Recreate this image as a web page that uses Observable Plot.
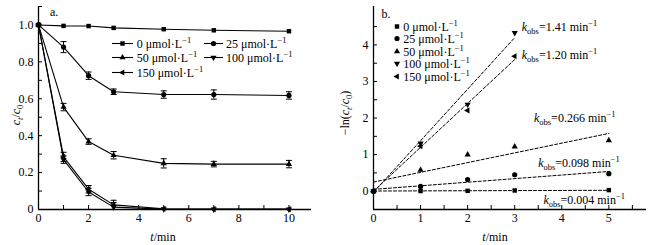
<!DOCTYPE html>
<html><head><meta charset="utf-8">
<script src="https://cdn.jsdelivr.net/npm/d3@7"></script>
<script src="https://cdn.jsdelivr.net/npm/@observablehq/plot@0.6"></script>
<style>
body{margin:0;background:#fff;}
#wrap{position:relative;width:649px;height:245px;font-family:'Liberation Serif','Tinos','DejaVu Serif','Times New Roman',serif;color:#000;overflow:hidden;background:#fff}
#wrap svg.plot{position:absolute;top:0}
#wrap svg text{font-family:'Liberation Serif','Tinos','DejaVu Serif','Times New Roman',serif}
.t{position:absolute;white-space:nowrap;font-size:12px;line-height:1;}
.sb{position:relative;top:3px;font-size:8.5px}
.sp{position:relative;top:-5px;font-size:8.5px}
</style></head><body><div id="wrap"></div>
<script>
// ---------- data ----------
const conc = ["0","25","50","100","150"];
const timesA = [0,1,2,3,5,7,10];
const ratio0   = [1.000,0.995,0.994,0.984,0.977,0.971,0.966];
const ratio25  = [1.000,0.880,0.725,0.638,0.623,0.623,0.618];
const ratio50  = [1.000,0.555,0.368,0.294,0.250,0.246,0.246];
const ratio100 = [1.000,0.270,0.095,0.013,0.002,0.001,0.001];
const ratio150 = [1.000,0.285,0.110,0.025,0.004,0.002,0.002];
const err0   = [0,0,0,0,0,0,0];
const err25  = [0,0.030,0.020,0.015,0.020,0.025,0.020];
const err50  = [0,0.020,0.015,0.020,0.025,0.015,0.020];
const err100 = [0,0.020,0.020,0.025,0,0,0];
const err150 = [0,0.025,0.020,0.025,0,0,0];

const timesB = [0,1,2,3,5];
const lnr0   = [0,0.005,0.01,0.02,0.03];
const lnr25  = [0,0.13,0.32,0.45,0.48];
const lnr50  = [0,0.58,1.00,1.22,1.39];
const lnr100 = [0,1.31,2.37,4.33];
const lnr150 = [0,1.23,2.21,3.69];
const kobs       = [0.004,0.098,0.266,1.41,1.20];
const kIntercept = [0.005,0.05,0.25,-0.03,0.0];
const fitEnd     = [5,5,5,3,3];
const kLabel     = ["0.004","0.098","0.266","1.41","1.20"];
const kLabelX    = [3.62,3.51,3.42,3.16,3.16];
const kLabelY    = [-0.25,0.75,2.0,4.47,3.72];

const xTicksA = [0,2,4,6,8,10];
const yTicksA = [0,0.2,0.4,0.6,0.8,1.0];
const xTicksB = [0,1,2,3,4,5];
const yTicksB = [0,1,2,3,4];

// ---------- symbols ----------
const s3 = Math.sqrt(3);
const triDown = {draw(ctx,size){const y=-Math.sqrt(size/(s3*3));ctx.moveTo(0,-2*y);ctx.lineTo(s3*y,y);ctx.lineTo(-s3*y,y);ctx.closePath();}};
const triLeft = {draw(ctx,size){const y=-Math.sqrt(size/(s3*3));ctx.moveTo(2*y,0);ctx.lineTo(-y,s3*y);ctx.lineTo(-y,-s3*y);ctx.closePath();}};
const capBar = {draw(ctx){ctx.moveTo(-3,0);ctx.lineTo(3,0);}};
const plotSymbols = ["square","circle","triangle",triDown,triLeft];
const d3Symbols = [d3.symbolSquare,d3.symbolCircle,d3.symbolTriangle,triDown,triLeft];
const symR = [2.5,2.6,2.3,2.3,2.3];

const ratiosA = [ratio0,ratio25,ratio50,ratio100,ratio150];
const errA = [err0,err25,err50,err100,err150];
const lnrB = [lnr0,lnr25,lnr50,lnr100,lnr150];

const font = "'Liberation Serif','Tinos','DejaVu Serif','Times New Roman',serif";
const wrap = document.getElementById("wrap");

function axes(xDom, yDom, xMinor, yMinor, xLab, yLab, xFmt, yFmt){
  return [
    Plot.axisX({ticks:xMinor, tickSize:-4, text:null, label:null, anchor:"bottom"}),
    Plot.axisY({ticks:yMinor, tickSize:-4, text:null, label:null, anchor:"left"}),
    Plot.axisX({ticks:xLab, tickSize:0, tickPadding:4, label:null, anchor:"bottom", fontSize:12, tickFormat:xFmt}),
    Plot.axisY({ticks:yLab, tickSize:0, tickPadding:5, label:null, anchor:"left", fontSize:12, tickFormat:yFmt}),
    Plot.ruleX([xDom[0]],{stroke:"black",strokeWidth:1.3}),
    Plot.ruleY([yDom[0]],{stroke:"black",strokeWidth:1.3})
  ];
}

// ---------- panel a ----------
const xDomA=[0,10.9], yDomA=[0,1.1];
const seriesA = conc.map((c,i)=>timesA.map((t,j)=>({t, v:ratiosA[i][j], e:errA[i][j]})));
const plotA = Plot.plot({
  width:330, height:245, marginLeft:38, marginRight:19, marginTop:6, marginBottom:36,
  x:{domain:xDomA}, y:{domain:yDomA},
  style:{fontFamily:font, fontSize:"12px", color:"black", background:"transparent"},
  marks:[
    ...axes(xDomA, yDomA, d3.range(0,11,1), d3.range(0,1.101,0.1), xTicksA, yTicksA, d=>String(d), d=>d===0?"0":d.toFixed(1)),
    ...seriesA.flatMap((rows,i)=>{
      const eb = rows.filter(d=>d.e>0);
      return [
        Plot.line(rows,{x:"t",y:"v",stroke:"black",strokeWidth:1.1}),
        Plot.ruleX(eb,{x:"t",y1:d=>Math.max(0,d.v-d.e),y2:d=>d.v+d.e,stroke:"black",strokeWidth:1}),
        Plot.dot(eb,{x:"t",y:d=>d.v+d.e,symbol:capBar,stroke:"black",fill:"none",strokeWidth:1}),
        Plot.dot(eb.filter(d=>d.v-d.e>0),{x:"t",y:d=>d.v-d.e,symbol:capBar,stroke:"black",fill:"none",strokeWidth:1}),
        Plot.dot(rows,{x:"t",y:"v",symbol:plotSymbols[i],r:symR[i],fill:"black",stroke:"none"})
      ];
    })
  ]
});
plotA.classList.add("plot");
plotA.style.left="0px";
wrap.appendChild(plotA);

// ---------- panel b ----------
const xDomB=[0,5.8], yDomB=[-0.5,5.05];
const seriesB = conc.map((c,i)=>lnrB[i].map((v,j)=>({t:timesB[j], v})));
const fits = kobs.map((k,i)=>[{t:0,v:kIntercept[i]},{t:fitEnd[i],v:kIntercept[i]+k*fitEnd[i]}]);
const plotB = Plot.plot({
  width:319, height:245, marginLeft:43, marginRight:3, marginTop:6, marginBottom:36,
  x:{domain:xDomB}, y:{domain:yDomB},
  style:{fontFamily:font, fontSize:"12px", color:"black", background:"transparent"},
  marks:[
    ...axes(xDomB, yDomB, d3.range(0,5.6,0.5), d3.range(0,4.6,0.5), xTicksB, yTicksB, d=>String(d), d=>String(d)),
    ...fits.map(f=>Plot.line(f,{x:"t",y:"v",stroke:"black",strokeWidth:1,strokeDasharray:"3,2"})),
    ...seriesB.map((rows,i)=>Plot.dot(rows,{x:"t",y:"v",symbol:plotSymbols[i],r:symR[i],fill:"black",stroke:"none"}))
  ]
});
plotB.classList.add("plot");
plotB.style.left="330px";
wrap.appendChild(plotB);

// ---------- text overlays ----------
function txt(html,x,y,mode){
  const d=document.createElement("div");
  d.className="t"; d.innerHTML=html;
  d.style.left=x+"px"; d.style.top=y+"px";
  d.style.transform = mode==="rot" ? "translate(-50%,-50%) rotate(-90deg)" : mode==="center" ? "translate(-50%,-50%)" : "translate(0,-50%)";
  wrap.appendChild(d); return d;
}
function symSvg(i, withLine, lineW){
  const w = withLine ? lineW : 8;
  const p = d3.symbol().type(d3Symbols[i]).size(Math.PI*symR[i]*symR[i])();
  return `<svg width="${w}" height="9" style="position:absolute;left:0;top:-4.5px;overflow:visible">`+
    (withLine?`<line x1="0" x2="${w}" y1="4.5" y2="4.5" stroke="black" stroke-width="1.1"/>`:"")+
    `<path d="${p}" transform="translate(${w/2},4.5)" fill="black"/></svg>`;
}
const unit = ' μmol·L<span class="sp">−1</span>';
// legend a
const legA = [[111.7,43.3,21,136.7],[204,43.3,19,226],[111.7,57.3,21,136.7],[204,57.3,19,226],[111.7,72.3,21,136.7]];
legA.forEach(([lx,ly,lw,tx],i)=>{
  const s=document.createElement("div");
  s.style.cssText=`position:absolute;left:${lx}px;top:${ly}px;width:0;height:0`;
  s.innerHTML=symSvg(i,true,lw); wrap.appendChild(s);
  txt(conc[i]+unit, tx, ly+0.5);
});
// legend b
const legBy=[26,38.6,51.2,63.8,76.4];
legBy.forEach((ly,i)=>{
  const s=document.createElement("div");
  s.style.cssText=`position:absolute;left:392.7px;top:${ly}px;width:0;height:0`;
  s.innerHTML=symSvg(i,false); wrap.appendChild(s);
  txt(conc[i]+unit, 403.3, ly+0.5);
});
// panel labels
txt("a.", 50, 12);
txt("b.", 381.5, 14);
// axis titles
txt('<i>t</i>/min', 163, 236.5, "center");
txt('<i>t</i>/min', 495, 236.5, "center");
txt('<i>c</i><span class="sb"><i>t</i></span>/<i>c</i><span class="sb">0</span>', 15.5, 115, "rot");
txt('−ln(<i>c</i><span class="sb"><i>t</i></span>/<i>c</i><span class="sb">0</span>)', 345, 113, "rot");
// k_obs labels, positioned through panel b scales
const sx = plotB.scale("x"), sy = plotB.scale("y");
kobs.forEach((k,i)=>{
  txt('<i>k</i><span class="sb">obs</span>='+kLabel[i]+' min<span class="sp">−1</span>', 330+sx.apply(kLabelX[i]), sy.apply(kLabelY[i]));
});
</script></body></html>
